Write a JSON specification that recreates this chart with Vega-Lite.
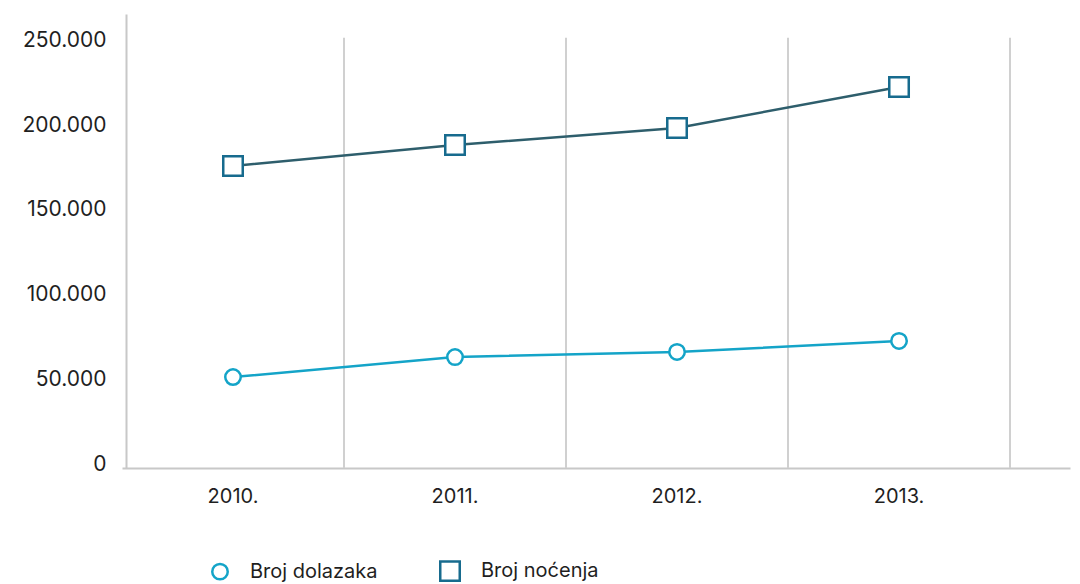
{
  "$schema": "https://vega.github.io/schema/vega-lite/v6.json",
  "width": 948,
  "height": 454,
  "autosize": "none",
  "padding": {"left": 122, "top": 14, "right": 10, "bottom": 116},
  "background": "white",
  "config": {
    "view": {"stroke": null},
    "font": "Inter",
    "axis": {"labelFont": "Inter", "labelFontSize": 20, "labelColor": "#1f1f1f", "ticks": false, "tickSize": 0, "grid": false, "title": null, "domainColor": "#c8c8c8", "domainWidth": 2}
  },
  "data": {
    "values": [
      {"year": "2010.", "series": "Broj dolazaka", "value": 53700},
      {"year": "2011.", "series": "Broj dolazaka", "value": 65500},
      {"year": "2012.", "series": "Broj dolazaka", "value": 68500},
      {"year": "2013.", "series": "Broj dolazaka", "value": 75000},
      {"year": "2010.", "series": "Broj noćenja", "value": 178300},
      {"year": "2011.", "series": "Broj noćenja", "value": 190700},
      {"year": "2012.", "series": "Broj noćenja", "value": 200700},
      {"year": "2013.", "series": "Broj noćenja", "value": 224900}
    ]
  },
  "layer": [
    {
      "transform": [{"filter": "datum.series === 'Broj dolazaka'"}],
      "mark": {"type": "rule", "color": "#d0d0d0", "strokeWidth": 2},
      "encoding": {
        "x": {"field": "year", "type": "nominal", "bandPosition": 1,
              "scale": {"type": "band", "paddingInner": 0, "paddingOuter": 0.1351, "align": 0},
              "axis": {"labelAngle": 0, "labelPadding": 18}},
        "y": {"datum": 0, "type": "quantitative"},
        "y2": {"datum": 254000}
      }
    },
    {
      "mark": {"type": "line", "strokeWidth": 2.5},
      "encoding": {
        "x": {"field": "year", "type": "nominal"},
        "y": {"field": "value", "type": "quantitative",
              "scale": {"domain": [0, 268000], "nice": false, "zero": true},
              "axis": {"values": [0, 50000, 100000, 150000, 200000, 250000], "offset": -4, "labelPadding": 20, "labelOffset": -4, "labelFontSize": 21,
                       "labelExpr": "datum.value == 0 ? '0' : format(datum.value / 1000, 'd') + '.000'"}},
        "detail": {"field": "series", "type": "nominal"},
        "color": {"value": "#14a4c8",
                  "condition": {"test": "datum.series === 'Broj noćenja'", "value": "#2e5e6c"}}
      }
    },
    {
      "mark": {"type": "point", "filled": true, "fill": "white", "strokeWidth": 2.5, "opacity": 1},
      "encoding": {
        "x": {"field": "year", "type": "nominal"},
        "y": {"field": "value", "type": "quantitative"},
        "stroke": {"field": "series", "type": "nominal",
                   "scale": {"domain": ["Broj dolazaka", "Broj noćenja"], "range": ["#14a4c8", "#176b8e"]},
                   "legend": {"title": null, "orient": "none", "direction": "horizontal", "legendX": 88, "legendY": 546,
                              "labelFont": "Inter", "labelFontSize": 20, "labelColor": "#1f1f1f", "labelOffset": 20,
                              "columnPadding": 57, "symbolStrokeWidth": 2.5, "symbolFillColor": "white"}},
        "shape": {"field": "series", "type": "nominal",
                  "scale": {"domain": ["Broj dolazaka", "Broj noćenja"], "range": ["circle", "square"]}},
        "size": {"field": "series", "type": "nominal",
                 "scale": {"domain": ["Broj dolazaka", "Broj noćenja"], "range": [240, 380]}}
      }
    }
  ]
}
